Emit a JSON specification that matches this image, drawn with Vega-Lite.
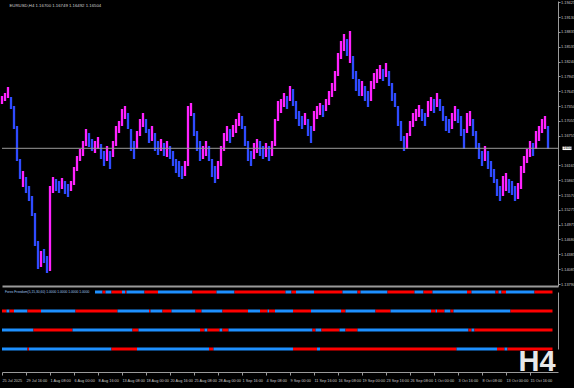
{
"$schema": "https://vega.github.io/schema/vega-lite/v6.json",
"background": "#000000",
"padding": 0,
"spacing": 0,
"config": {"view": {"stroke": null}, "font": "Liberation Sans", "axis": {"grid": false, "title": null, "labelOverlap": false}},
"resolve": {"scale": {"x": "independent", "y": "independent", "color": "independent"}},
"datasets": {
"bars": [
{"i":0,"h":1.1755,"l":1.1739,"d":"u"},{"i":2,"h":1.1761,"l":1.1745,"d":"u"},{"i":4,"h":1.1773,"l":1.1751,"d":"u"},{"i":6,"h":1.1753,"l":1.1729,"d":"d"},
{"i":8,"h":1.1735,"l":1.1689,"d":"d"},{"i":10,"h":1.1695,"l":1.1625,"d":"d"},{"i":12,"h":1.1629,"l":1.1589,"d":"d"},{"i":14,"h":1.1605,"l":1.1573,"d":"u"},
{"i":16,"h":1.1593,"l":1.1561,"d":"d"},{"i":18,"h":1.1575,"l":1.1545,"d":"d"},{"i":20,"h":1.1555,"l":1.1515,"d":"d"},{"i":22,"h":1.1521,"l":1.1455,"d":"d"},
{"i":24,"h":1.1465,"l":1.1409,"d":"d"},{"i":26,"h":1.1445,"l":1.1413,"d":"u"},{"i":28,"h":1.1449,"l":1.1421,"d":"d"},{"i":30,"h":1.1435,"l":1.1401,"d":"d"},
{"i":32,"h":1.1575,"l":1.1405,"d":"u"},{"i":34,"h":1.1593,"l":1.1561,"d":"u"},{"i":36,"h":1.1589,"l":1.1565,"d":"d"},{"i":38,"h":1.1585,"l":1.1561,"d":"d"},
{"i":40,"h":1.1591,"l":1.1569,"d":"u"},{"i":42,"h":1.1585,"l":1.1559,"d":"d"},{"i":44,"h":1.1579,"l":1.1553,"d":"d"},{"i":46,"h":1.1585,"l":1.1565,"d":"u"},
{"i":48,"h":1.1613,"l":1.1577,"d":"u"},{"i":50,"h":1.1635,"l":1.1605,"d":"u"},{"i":52,"h":1.1649,"l":1.1625,"d":"u"},{"i":54,"h":1.1665,"l":1.1635,"d":"u"},
{"i":56,"h":1.1689,"l":1.1655,"d":"u"},{"i":58,"h":1.1681,"l":1.1653,"d":"d"},{"i":60,"h":1.1669,"l":1.1645,"d":"d"},{"i":62,"h":1.1665,"l":1.1641,"d":"u"},
{"i":64,"h":1.1673,"l":1.1649,"d":"u"},{"i":66,"h":1.1659,"l":1.1629,"d":"d"},{"i":68,"h":1.1645,"l":1.1615,"d":"d"},{"i":70,"h":1.1655,"l":1.1625,"d":"u"},
{"i":72,"h":1.1645,"l":1.1609,"d":"d"},{"i":74,"h":1.1665,"l":1.1633,"d":"u"},{"i":76,"h":1.1695,"l":1.1655,"d":"u"},{"i":78,"h":1.1705,"l":1.1681,"d":"u"},
{"i":80,"h":1.1729,"l":1.1695,"d":"u"},{"i":82,"h":1.1735,"l":1.1709,"d":"u"},{"i":84,"h":1.1721,"l":1.1689,"d":"d"},{"i":86,"h":1.1689,"l":1.1645,"d":"d"},
{"i":88,"h":1.1665,"l":1.1629,"d":"d"},{"i":90,"h":1.1685,"l":1.1649,"d":"u"},{"i":92,"h":1.1709,"l":1.1675,"d":"u"},{"i":94,"h":1.1721,"l":1.1693,"d":"u"},
{"i":96,"h":1.1709,"l":1.1681,"d":"d"},{"i":98,"h":1.1689,"l":1.1661,"d":"d"},{"i":100,"h":1.1695,"l":1.1665,"d":"u"},{"i":102,"h":1.1681,"l":1.1645,"d":"d"},
{"i":104,"h":1.1665,"l":1.1637,"d":"d"},{"i":106,"h":1.1669,"l":1.1645,"d":"u"},{"i":108,"h":1.1661,"l":1.1635,"d":"d"},{"i":110,"h":1.1665,"l":1.1633,"d":"u"},
{"i":112,"h":1.1655,"l":1.1629,"d":"d"},{"i":114,"h":1.1645,"l":1.1615,"d":"d"},{"i":116,"h":1.1629,"l":1.1601,"d":"d"},{"i":118,"h":1.1625,"l":1.1593,"d":"d"},
{"i":120,"h":1.1615,"l":1.1589,"d":"d"},{"i":122,"h":1.1625,"l":1.1595,"d":"u"},{"i":124,"h":1.1735,"l":1.1615,"d":"u"},{"i":126,"h":1.1741,"l":1.1715,"d":"u"},
{"i":128,"h":1.1721,"l":1.1675,"d":"d"},{"i":130,"h":1.1685,"l":1.1645,"d":"d"},{"i":132,"h":1.1665,"l":1.1625,"d":"d"},{"i":134,"h":1.1655,"l":1.1629,"d":"u"},
{"i":136,"h":1.1665,"l":1.1635,"d":"u"},{"i":138,"h":1.1655,"l":1.1625,"d":"d"},{"i":140,"h":1.1629,"l":1.1593,"d":"d"},{"i":142,"h":1.1615,"l":1.1581,"d":"d"},
{"i":144,"h":1.1625,"l":1.1589,"d":"u"},{"i":146,"h":1.1655,"l":1.1615,"d":"u"},{"i":148,"h":1.1681,"l":1.1645,"d":"u"},{"i":150,"h":1.1695,"l":1.1665,"d":"u"},
{"i":152,"h":1.1689,"l":1.1661,"d":"d"},{"i":154,"h":1.1697,"l":1.1673,"d":"u"},{"i":156,"h":1.1709,"l":1.1681,"d":"u"},{"i":158,"h":1.1721,"l":1.1695,"d":"u"},
{"i":160,"h":1.1715,"l":1.1689,"d":"d"},{"i":162,"h":1.1695,"l":1.1655,"d":"d"},{"i":164,"h":1.1665,"l":1.1625,"d":"d"},{"i":166,"h":1.1645,"l":1.1615,"d":"d"},
{"i":168,"h":1.1661,"l":1.1629,"d":"u"},{"i":170,"h":1.1669,"l":1.1641,"d":"u"},{"i":172,"h":1.1665,"l":1.1635,"d":"d"},{"i":174,"h":1.1655,"l":1.1629,"d":"d"},
{"i":176,"h":1.1661,"l":1.1633,"d":"u"},{"i":178,"h":1.1655,"l":1.1625,"d":"d"},{"i":180,"h":1.1665,"l":1.1635,"d":"u"},{"i":182,"h":1.1709,"l":1.1655,"d":"u"},
{"i":184,"h":1.1745,"l":1.1705,"d":"u"},{"i":186,"h":1.1749,"l":1.1721,"d":"u"},{"i":188,"h":1.1761,"l":1.1733,"d":"u"},{"i":190,"h":1.1755,"l":1.1729,"d":"d"},
{"i":192,"h":1.1775,"l":1.1745,"d":"u"},{"i":194,"h":1.1769,"l":1.1735,"d":"d"},{"i":196,"h":1.1745,"l":1.1709,"d":"d"},{"i":198,"h":1.1725,"l":1.1695,"d":"d"},
{"i":200,"h":1.1715,"l":1.1689,"d":"d"},{"i":202,"h":1.1721,"l":1.1697,"d":"u"},{"i":204,"h":1.1709,"l":1.1675,"d":"d"},{"i":206,"h":1.1695,"l":1.1661,"d":"d"},
{"i":208,"h":1.1725,"l":1.1685,"d":"u"},{"i":210,"h":1.1735,"l":1.1709,"d":"u"},{"i":212,"h":1.1741,"l":1.1717,"d":"u"},{"i":214,"h":1.1737,"l":1.1713,"d":"d"},
{"i":216,"h":1.1749,"l":1.1725,"d":"u"},{"i":218,"h":1.1765,"l":1.1737,"d":"u"},{"i":220,"h":1.1781,"l":1.1753,"d":"u"},{"i":222,"h":1.1805,"l":1.1765,"d":"u"},
{"i":224,"h":1.1841,"l":1.1795,"d":"u"},{"i":226,"h":1.1865,"l":1.1829,"d":"u"},{"i":228,"h":1.1879,"l":1.1845,"d":"u"},{"i":230,"h":1.1869,"l":1.1835,"d":"d"},
{"i":232,"h":1.1885,"l":1.1821,"d":"u"},{"i":234,"h":1.1835,"l":1.1789,"d":"d"},{"i":236,"h":1.1805,"l":1.1765,"d":"d"},{"i":238,"h":1.1789,"l":1.1755,"d":"d"},
{"i":240,"h":1.1785,"l":1.1755,"d":"u"},{"i":242,"h":1.1775,"l":1.1745,"d":"d"},{"i":244,"h":1.1765,"l":1.1733,"d":"d"},{"i":246,"h":1.1785,"l":1.1745,"d":"u"},
{"i":248,"h":1.1801,"l":1.1769,"d":"u"},{"i":250,"h":1.1809,"l":1.1781,"d":"u"},{"i":252,"h":1.1817,"l":1.1789,"d":"u"},{"i":254,"h":1.1809,"l":1.1785,"d":"d"},
{"i":256,"h":1.1821,"l":1.1793,"d":"u"},{"i":258,"h":1.1805,"l":1.1775,"d":"d"},{"i":260,"h":1.1781,"l":1.1745,"d":"d"},{"i":262,"h":1.1761,"l":1.1733,"d":"d"},
{"i":264,"h":1.1735,"l":1.1695,"d":"d"},{"i":266,"h":1.1705,"l":1.1665,"d":"d"},{"i":268,"h":1.1675,"l":1.1645,"d":"d"},{"i":270,"h":1.1681,"l":1.1649,"d":"u"},
{"i":272,"h":1.1705,"l":1.1675,"d":"u"},{"i":274,"h":1.1721,"l":1.1693,"d":"u"},{"i":276,"h":1.1729,"l":1.1705,"d":"u"},{"i":278,"h":1.1737,"l":1.1713,"d":"u"},
{"i":280,"h":1.1729,"l":1.1705,"d":"d"},{"i":282,"h":1.1721,"l":1.1695,"d":"d"},{"i":284,"h":1.1745,"l":1.1713,"d":"u"},{"i":286,"h":1.1753,"l":1.1725,"d":"u"},
{"i":288,"h":1.1749,"l":1.1721,"d":"d"},{"i":290,"h":1.1761,"l":1.1733,"d":"u"},{"i":292,"h":1.1749,"l":1.1725,"d":"d"},{"i":294,"h":1.1735,"l":1.1705,"d":"d"},
{"i":296,"h":1.1715,"l":1.1685,"d":"d"},{"i":298,"h":1.1709,"l":1.1681,"d":"d"},{"i":300,"h":1.1721,"l":1.1689,"d":"u"},{"i":302,"h":1.1735,"l":1.1705,"d":"u"},
{"i":304,"h":1.1729,"l":1.1701,"d":"d"},{"i":306,"h":1.1715,"l":1.1675,"d":"d"},{"i":308,"h":1.1689,"l":1.1649,"d":"d"},{"i":310,"h":1.1721,"l":1.1681,"d":"u"},
{"i":312,"h":1.1725,"l":1.1695,"d":"u"},{"i":314,"h":1.1709,"l":1.1675,"d":"d"},{"i":316,"h":1.1685,"l":1.1649,"d":"d"},{"i":318,"h":1.1661,"l":1.1629,"d":"d"},
{"i":320,"h":1.1645,"l":1.1615,"d":"d"},{"i":322,"h":1.1655,"l":1.1625,"d":"u"},{"i":324,"h":1.1645,"l":1.1609,"d":"d"},{"i":326,"h":1.1625,"l":1.1593,"d":"d"},
{"i":328,"h":1.1609,"l":1.1581,"d":"d"},{"i":330,"h":1.1589,"l":1.1555,"d":"d"},{"i":332,"h":1.1575,"l":1.1545,"d":"d"},{"i":334,"h":1.1595,"l":1.1555,"d":"u"},
{"i":336,"h":1.1601,"l":1.1565,"d":"u"},{"i":338,"h":1.1589,"l":1.1561,"d":"d"},{"i":340,"h":1.1585,"l":1.1557,"d":"d"},{"i":342,"h":1.1575,"l":1.1545,"d":"d"},
{"i":344,"h":1.1581,"l":1.1549,"d":"u"},{"i":346,"h":1.1615,"l":1.1569,"d":"u"},{"i":348,"h":1.1635,"l":1.1601,"d":"u"},{"i":350,"h":1.1649,"l":1.1621,"d":"u"},
{"i":352,"h":1.1665,"l":1.1633,"d":"u"},{"i":354,"h":1.1661,"l":1.1635,"d":"d"},{"i":356,"h":1.1685,"l":1.1649,"d":"u"},{"i":358,"h":1.1695,"l":1.1665,"d":"u"},
{"i":360,"h":1.1709,"l":1.1681,"d":"u"},{"i":362,"h":1.1715,"l":1.1689,"d":"u"},{"i":364,"h":1.1695,"l":1.1649,"d":"d"}
],
"ff": [
{"row":"L1","s":62,"e":67,"c":"b"},{"row":"L1","s":67,"e":69,"c":"r"},{"row":"L1","s":69,"e":73,"c":"b"},{"row":"L1","s":73,"e":80,"c":"r"},
{"row":"L1","s":80,"e":82,"c":"b"},{"row":"L1","s":82,"e":83,"c":"r"},{"row":"L1","s":83,"e":95,"c":"b"},{"row":"L1","s":95,"e":104,"c":"r"},
{"row":"L1","s":104,"e":127,"c":"b"},{"row":"L1","s":127,"e":143,"c":"r"},{"row":"L1","s":143,"e":155,"c":"b"},{"row":"L1","s":155,"e":189,"c":"r"},
{"row":"L1","s":189,"e":193,"c":"b"},{"row":"L1","s":193,"e":196,"c":"r"},{"row":"L1","s":196,"e":208,"c":"b"},{"row":"L1","s":208,"e":227,"c":"r"},
{"row":"L1","s":227,"e":237,"c":"b"},{"row":"L1","s":237,"e":239,"c":"r"},{"row":"L1","s":239,"e":257,"c":"b"},{"row":"L1","s":257,"e":275,"c":"r"},
{"row":"L1","s":275,"e":281,"c":"b"},{"row":"L1","s":281,"e":287,"c":"r"},{"row":"L1","s":287,"e":310,"c":"b"},{"row":"L1","s":310,"e":313,"c":"r"},
{"row":"L1","s":313,"e":329,"c":"b"},{"row":"L1","s":329,"e":331,"c":"r"},{"row":"L1","s":331,"e":333,"c":"b"},{"row":"L1","s":333,"e":336,"c":"r"},
{"row":"L1","s":336,"e":355,"c":"b"},{"row":"L1","s":355,"e":367,"c":"r"},
{"row":"L2","s":0,"e":3,"c":"r"},{"row":"L2","s":3,"e":5,"c":"b"},{"row":"L2","s":5,"e":8,"c":"r"},{"row":"L2","s":8,"e":17,"c":"b"},
{"row":"L2","s":17,"e":26,"c":"r"},{"row":"L2","s":26,"e":49,"c":"b"},{"row":"L2","s":49,"e":77,"c":"r"},{"row":"L2","s":77,"e":98,"c":"b"},
{"row":"L2","s":98,"e":99,"c":"r"},{"row":"L2","s":99,"e":107,"c":"b"},{"row":"L2","s":107,"e":113,"c":"r"},{"row":"L2","s":113,"e":129,"c":"b"},
{"row":"L2","s":129,"e":133,"c":"r"},{"row":"L2","s":133,"e":147,"c":"b"},{"row":"L2","s":147,"e":164,"c":"r"},{"row":"L2","s":164,"e":172,"c":"b"},
{"row":"L2","s":172,"e":177,"c":"r"},{"row":"L2","s":177,"e":178,"c":"b"},{"row":"L2","s":178,"e":182,"c":"r"},{"row":"L2","s":182,"e":194,"c":"b"},
{"row":"L2","s":194,"e":206,"c":"r"},{"row":"L2","s":206,"e":226,"c":"b"},{"row":"L2","s":226,"e":229,"c":"r"},{"row":"L2","s":229,"e":249,"c":"b"},
{"row":"L2","s":249,"e":259,"c":"r"},{"row":"L2","s":259,"e":286,"c":"b"},{"row":"L2","s":286,"e":289,"c":"r"},{"row":"L2","s":289,"e":290,"c":"b"},
{"row":"L2","s":290,"e":295,"c":"r"},{"row":"L2","s":295,"e":299,"c":"b"},{"row":"L2","s":299,"e":301,"c":"r"},{"row":"L2","s":301,"e":339,"c":"b"},
{"row":"L2","s":339,"e":367,"c":"r"},
{"row":"L3","s":0,"e":21,"c":"b"},{"row":"L3","s":21,"e":47,"c":"r"},{"row":"L3","s":47,"e":87,"c":"b"},{"row":"L3","s":87,"e":91,"c":"r"},
{"row":"L3","s":91,"e":132,"c":"b"},{"row":"L3","s":132,"e":135,"c":"r"},{"row":"L3","s":135,"e":137,"c":"b"},{"row":"L3","s":137,"e":145,"c":"r"},
{"row":"L3","s":145,"e":147,"c":"b"},{"row":"L3","s":147,"e":151,"c":"r"},{"row":"L3","s":151,"e":207,"c":"b"},{"row":"L3","s":207,"e":209,"c":"r"},
{"row":"L3","s":209,"e":213,"c":"b"},{"row":"L3","s":213,"e":225,"c":"r"},{"row":"L3","s":225,"e":229,"c":"b"},{"row":"L3","s":229,"e":237,"c":"r"},
{"row":"L3","s":237,"e":311,"c":"b"},{"row":"L3","s":311,"e":313,"c":"r"},{"row":"L3","s":313,"e":315,"c":"b"},{"row":"L3","s":315,"e":367,"c":"r"},
{"row":"L4","s":0,"e":17,"c":"b"},{"row":"L4","s":17,"e":18,"c":"r"},{"row":"L4","s":18,"e":73,"c":"b"},{"row":"L4","s":73,"e":90,"c":"r"},
{"row":"L4","s":90,"e":138,"c":"b"},{"row":"L4","s":138,"e":141,"c":"r"},{"row":"L4","s":141,"e":194,"c":"b"},{"row":"L4","s":194,"e":210,"c":"r"},
{"row":"L4","s":210,"e":212,"c":"b"},{"row":"L4","s":212,"e":303,"c":"r"},{"row":"L4","s":303,"e":330,"c":"b"},{"row":"L4","s":330,"e":335,"c":"r"},
{"row":"L4","s":335,"e":337,"c":"b"},{"row":"L4","s":337,"e":367,"c":"r"}
]
},
"vconcat": [
{
"width": 556, "height": 285,
"layer": [
{"data": {"name": "bars"},
 "mark": {"type": "rule", "strokeWidth": 2.3},
 "encoding": {
  "x": {"field": "i", "type": "quantitative", "scale": {"domain": [0, 370.67], "nice": false, "zero": false},
        "axis": {"orient": "bottom", "domain": true, "domainColor": "#9a9a9a", "domainWidth": 2, "ticks": false, "labels": false, "minExtent": 0, "maxExtent": 0}},
  "y": {"field": "h", "type": "quantitative", "scale": {"domain": [1.1375, 1.1945], "nice": false, "zero": false},
        "axis": {"orient": "right", "tickCount": 100, "values": [1.1379,1.14085,1.14385,1.1468,1.14975,1.15275,1.1557,1.15865,1.16165,1.16755,1.17055,1.1735,1.17645,1.17945,1.1824,1.18535,1.18835,1.1913,1.19425],
                 "format": ".5f", "labelFontSize": 3.9, "labelColor": "#c8c8c8", "tickColor": "#9a9a9a", "tickSize": 2, "labelPadding": 0.5,
                 "domainColor": "#9a9a9a", "labelFlush": false, "labelOverlap": false, "labelBound": false, "minExtent": 18, "maxExtent": 18}},
  "y2": {"field": "l"},
  "color": {"field": "d", "type": "nominal", "scale": {"domain": ["u", "d"], "range": ["#ff22ff", "#2f4bff"]}, "legend": null}
 }},
{"data": {"values": [{"p": 1.16504, "t": "1.16504"}]},
 "mark": {"type": "rule", "color": "#9a9a9a", "strokeWidth": 1},
 "encoding": {"y": {"field": "p", "type": "quantitative"}}},
{"data": {"values": [{"p": 1.16504, "t": "1.16504"}]},
 "mark": {"type": "point", "shape": "M-1.3,-0.5H1.3V0.5H-1.3Z", "filled": true, "color": "#ffffff", "opacity": 1, "size": 49},
 "encoding": {"x": {"datum": 376.7}, "y": {"field": "p", "type": "quantitative"}}},
{"data": {"values": [{"p": 1.16504, "t": "1.16504"}]},
 "mark": {"type": "text", "color": "#000000", "fontSize": 3.9, "align": "center", "baseline": "middle"},
 "encoding": {"x": {"datum": 376.7}, "y": {"field": "p", "type": "quantitative"}, "text": {"field": "t"}}},
{"data": {"values": [{"p": 1.1935, "t": "EURUSD,H4  1.16700 1.16749 1.16492 1.16504"}]},
 "mark": {"type": "text", "color": "#d0d0d0", "fontSize": 4.3, "align": "left", "baseline": "middle"},
 "encoding": {"x": {"datum": 5}, "y": {"field": "p", "type": "quantitative"}, "text": {"field": "t"}}}
]
},
{
"width": 556, "height": 86,
"layer": [
{"data": {"name": "ff"},
 "mark": {"type": "rule", "strokeWidth": 3},
 "encoding": {
  "x": {"field": "s", "type": "quantitative", "scale": {"domain": [0, 370.67], "nice": false, "zero": false},
        "axis": {"orient": "bottom", "tickCount": 100, "values": [0,16,32,48,64,80,96,112,128,144,160,176,192,208,224,240,256,272,288,304,320,336,352],
                 "labelExpr": "['25 Jul 2025','29 Jul 16:00','1 Aug 08:00','6 Aug 00:00','8 Aug 16:00','13 Aug 08:00','18 Aug 00:00','20 Aug 16:00','25 Aug 08:00','28 Aug 00:00','1 Sep 16:00','4 Sep 08:00','9 Sep 00:00','11 Sep 16:00','16 Sep 08:00','19 Sep 00:00','23 Sep 16:00','26 Sep 08:00','1 Oct 00:00','3 Oct 16:00','8 Oct 08:00','13 Oct 00:00','15 Oct 16:00'][round(datum.value/16)]",
                 "labelAlign": "left", "labelFontSize": 3.8, "labelColor": "#c8c8c8", "tickColor": "#9a9a9a", "tickSize": 3, "labelPadding": 3,
                 "domainColor": "#9a9a9a", "labelFlush": false, "labelOverlap": false, "labelBound": false, "minExtent": 17, "maxExtent": 17}},
  "x2": {"field": "e"},
  "y": {"field": "row", "type": "ordinal", "scale": {"type": "point", "range": [6, 63], "padding": 0},
        "axis": {"orient": "right", "labels": false, "ticks": false, "domain": true, "domainColor": "#9a9a9a", "minExtent": 18, "maxExtent": 18}},
  "color": {"field": "c", "type": "nominal", "scale": {"domain": ["r", "b"], "range": ["#ff0000", "#1e90ff"]}, "legend": null}
 }},
{"data": {"values": [{"row": "L1", "t": "Forex Freedom(5,15,30,60) 1.0000 1.0000 1.0000 1.0000"}]},
 "mark": {"type": "text", "color": "#9fc5ee", "fontSize": 3.3, "align": "left", "baseline": "middle"},
 "encoding": {"x": {"datum": 2}, "y": {"field": "row", "type": "ordinal"}, "text": {"field": "t"}}},
{"data": {"values": [{"row": "L4", "t": "H4"}]},
 "mark": {"type": "text", "color": "#e8e8e8", "fontSize": 29, "fontWeight": "bold", "align": "center", "baseline": "middle", "dy": 13},
 "encoding": {"x": {"datum": 356.7}, "y": {"field": "row", "type": "ordinal"}, "text": {"field": "t"}}}
]
}
]
}
